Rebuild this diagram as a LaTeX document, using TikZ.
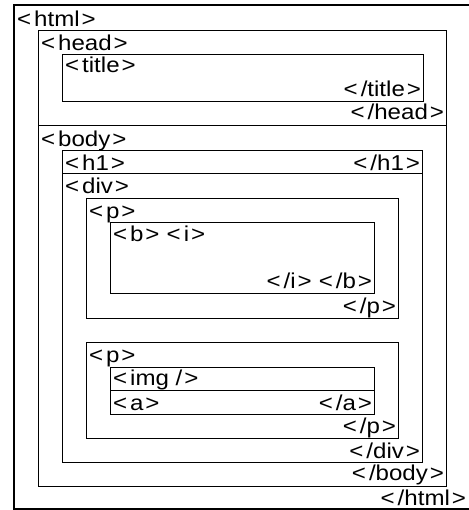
\documentclass[tikz,border=0pt]{standalone}
\usepackage{fontspec}
\setmainfont{Liberation Sans}
\usepackage{graphicx}
% angle brackets of a tag, with the loose spacing used in the figure
\newcommand{\opn}{\hspace{1.7pt}<\hspace{2.7pt}}
\newcommand{\cls}{\hspace{1.7pt}>\hspace{1.7pt}}
\newcommand{\tagsep}{\hspace{3pt}}
\newcommand{\tg}[1]{\scalebox{1.12}[1]{#1}}
\tikzset{
  box/.style={draw=black, line width=0.9pt},
  outerbox/.style={draw=black, line width=1.8pt},
  tagtext/.style={inner sep=0pt, font=\fontsize{21.5}{24}\selectfont},
  opentag/.style={tagtext, anchor=base west},
  closetag/.style={tagtext, anchor=base east},
}
\begin{document}
\begin{tikzpicture}[x=1pt,y=-1pt]
\useasboundingbox (0,0) rectangle (468,510);

% nested element boxes
\draw[outerbox] (14,5) rectangle (480,509);   % html
\draw[box] (38,30)   rectangle (446,125);     % head
\draw[box] (62,54)   rectangle (423,101);     % title
\draw[box] (38,125)  rectangle (446,486);     % body
\draw[box] (62,150)  rectangle (422,173);     % h1
\draw[box] (62,173)  rectangle (422,462);     % div
\draw[box] (86,198)  rectangle (398,318);     % first p
\draw[box] (110,222) rectangle (374,293);     % b / i
\draw[box] (86,342)  rectangle (398,438);     % second p
\draw[box] (110,367) rectangle (374,390);     % img
\draw[box] (110,390) rectangle (374,414);     % a

% opening and closing tags
\node[opentag]  (htmlO)  at (15,27)    {\tg{\opn html\cls}};
\node[closetag] (htmlC)  at (468,505)  {\tg{\opn/html\cls}};
\node[opentag]  (headO)  at (39,51)    {\tg{\opn head\cls}};
\node[closetag] (headC)  at (446,120)  {\tg{\opn/head\cls}};
\node[opentag]  (titleO) at (63,73)    {\tg{\opn title\cls}};
\node[closetag] (titleC) at (423,97)   {\tg{\opn/title\cls}};
\node[opentag]  (bodyO)  at (39,146.5) {\tg{\opn body\cls}};
\node[closetag] (bodyC)  at (446,480)  {\tg{\opn/body\cls}};
\node[opentag]  (hO)     at (63,171)   {\tg{\opn h1\cls}};
\node[closetag] (hC)     at (422,171)  {\tg{\opn/h1\cls}};
\node[opentag]  (divO)   at (63,194)   {\tg{\opn div\cls}};
\node[closetag] (divC)   at (422,458)  {\tg{\opn/div\cls}};
\node[opentag]  (pAO)    at (87,218.5) {\tg{\opn p\cls}};
\node[closetag] (pAC)    at (398,313.5){\tg{\opn/p\cls}};
\node[opentag]  (biO)    at (111,241.5){\tg{\opn b\cls\tagsep\opn i\cls}};
\node[closetag] (biC)    at (374,288.5){\tg{\opn/i\cls\tagsep\opn/b\cls}};
\node[opentag]  (pBO)    at (87,362)   {\tg{\opn p\cls}};
\node[closetag] (pBC)    at (398,433.5){\tg{\opn/p\cls}};
\node[opentag]  (imgO)   at (111,385.5){\tg{\opn img /\cls}};
\node[opentag]  (aO)     at (111,410)  {\tg{\opn a\cls}};
\node[closetag] (aC)     at (374,410)  {\tg{\opn/a\cls}};
\end{tikzpicture}
\end{document}
